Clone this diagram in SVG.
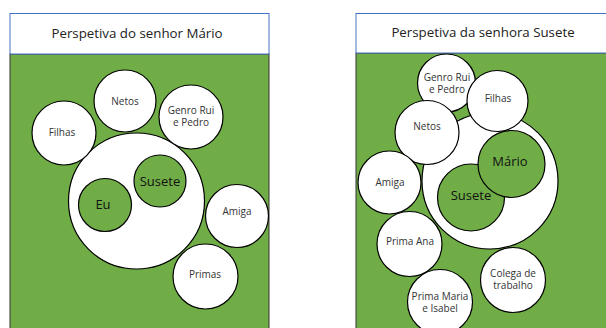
<svg xmlns="http://www.w3.org/2000/svg" width="606" height="328" viewBox="0 0 606 328">
<style>
.hdr{fill:#fff;stroke:#4472C4;stroke-width:1}
.bg{fill:#70AD47;stroke:#333;stroke-width:1}
.w{fill:#fff;stroke:#000;stroke-width:1.2}
.g{fill:#70AD47;stroke:#000;stroke-width:1.2}
text{font-family:"Open Sans","Noto Sans",sans-serif;text-anchor:middle;dominant-baseline:central}
.t{font-size:13.3px;fill:#222}
.s{font-size:10px;fill:#333}
.b{font-size:13px;fill:#111}
</style>
<rect width="606" height="328" fill="#fff"/>
<g id="panel-left">
<rect class="bg" x="10" y="54" width="259" height="290"/>
<rect class="hdr" x="10" y="13.5" width="259" height="40.5"/>
<text class="t" x="137" y="33">Perspetiva do senhor Mário</text>
</g>
<g id="panel-right">
<rect class="bg" x="356" y="53" width="259" height="290"/>
<rect class="hdr" x="356" y="13.5" width="259" height="39.5"/>
<text class="t" x="483" y="32">Perspetiva da senhora Susete</text>
</g>
<g id="connectors"></g>
<g id="l-nucleo"><circle class="w" cx="136.5" cy="201" r="68"/></g>
<g id="l-netos"><circle class="w" cx="125" cy="101" r="31"/><text class="s" x="125" y="101">Netos</text></g>
<g id="l-genro"><circle class="w" cx="191" cy="117" r="32"/><text class="s" x="191" y="109.5">Genro Rui</text><text class="s" x="191" y="121.5">e Pedro</text></g>
<g id="l-filhas"><circle class="w" cx="64" cy="133" r="32"/><text class="s" x="62" y="132">Filhas</text></g>
<g id="l-susete"><circle class="g" cx="160" cy="181" r="26"/><text class="b" x="160" y="181">Susete</text></g>
<g id="l-eu"><circle class="g" cx="105" cy="205" r="26.5"/><text class="b" x="103" y="204">Eu</text></g>
<g id="l-amiga"><circle class="w" cx="237" cy="216" r="31.5"/><text class="s" x="237" y="211">Amiga</text></g>
<g id="l-primas"><circle class="w" cx="205.5" cy="276.5" r="32.5"/><text class="s" x="205" y="274">Primas</text></g>

<g id="r-nucleo"><circle class="w" cx="490" cy="181" r="68"/></g>
<g id="r-genro"><circle class="w" cx="446.5" cy="83" r="29"/><text class="s" x="447" y="76.5">Genro Rui</text><text class="s" x="447" y="88.5">e Pedro</text></g>
<g id="r-filhas"><circle class="w" cx="497.5" cy="101" r="30.5"/><text class="s" x="498" y="98">Filhas</text></g>
<g id="r-netos"><circle class="w" cx="427" cy="132.5" r="32"/><text class="s" x="427" y="126">Netos</text></g>
<g id="r-susete"><circle class="g" cx="471" cy="197.5" r="33.5"/><text class="b" x="471" y="195">Susete</text></g>
<g id="r-mario"><circle class="g" cx="511.5" cy="164" r="33.5"/><text class="b" x="510" y="161">Mário</text></g>
<g id="r-amiga"><circle class="w" cx="389.5" cy="182.5" r="31.5"/><text class="s" x="390" y="182">Amiga</text></g>
<g id="r-primaana"><circle class="w" cx="409.5" cy="244" r="32.5"/><text class="s" x="410" y="241">Prima Ana</text></g>
<g id="r-primamaria"><circle class="w" cx="440" cy="302" r="32.5"/><text class="s" x="440" y="295.5">Prima Maria</text><text class="s" x="440" y="307.5">e Isabel</text></g>
<g id="r-colega"><circle class="w" cx="513" cy="280" r="32.5"/><text class="s" x="513" y="272.5">Colega de</text><text class="s" x="513" y="284.5">trabalho</text></g>
</svg>
